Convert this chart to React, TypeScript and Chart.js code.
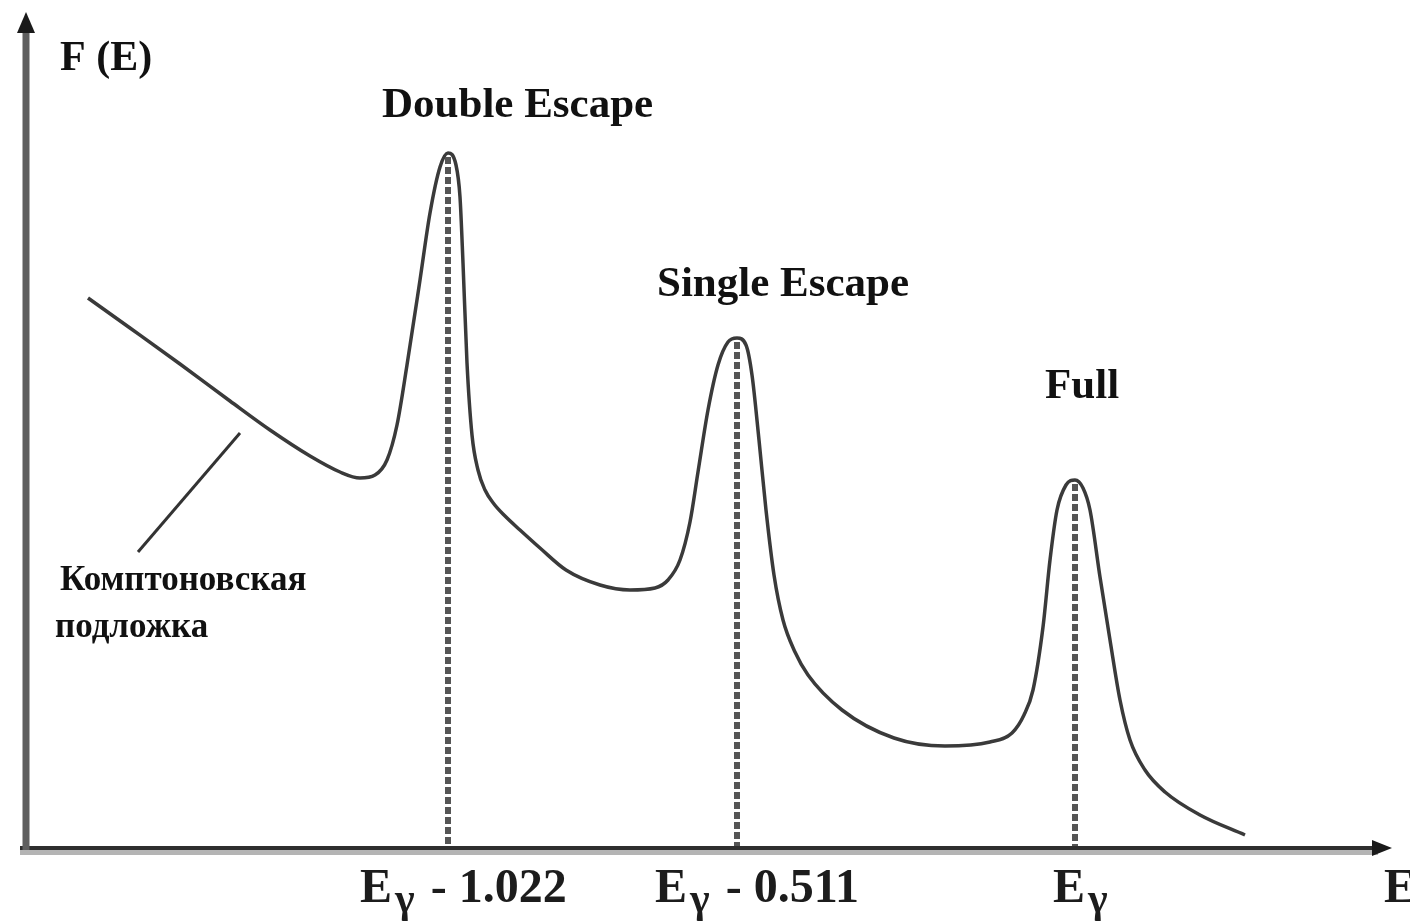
import { useEffect, useRef } from "react";
import { Chart, registerables } from "chart.js";

Chart.register(...registerables);

// Spectrum F(E): energy (arbitrary units along the axis) and counts
const energy = [
  6.3, 10.5, 15.5, 20.5, 24.5, 28.5, 31.5, 33.5, 35.0, 36.2, 37.2, 38.2, 39.5, 40.5, 41.5,
  42.3, 43.1, 43.5, 43.8, 44.2, 44.7, 45.3, 46.0, 46.9, 48.0, 49.5, 51.5, 54.1, 57.5, 60.5,
  63.0, 64.3, 65.5, 66.5, 67.3, 68.3, 69.3, 70.3, 71.2, 72.1, 72.7, 73.4, 74.1, 74.9, 75.8,
  77.0, 78.3, 81.7, 86.9, 92.0, 96.5, 98.7, 99.9, 100.8, 101.8, 102.5, 103.2, 104.1, 105.0,
  105.8, 106.5, 107.5, 108.5, 109.5, 110.5, 112.0, 114.0, 117.5, 122.0,
];
const counts = [
  55.0, 52.0, 48.4, 44.7, 41.8, 39.2, 37.6, 37.0, 37.3, 38.8, 42.3, 48.3, 56.8, 63.5, 68.1,
  69.5, 68.3, 65.1, 58.5, 48.5, 41.3, 37.8, 35.8, 34.4, 33.2, 31.8, 30.0, 27.8, 26.3, 25.8,
  26.0, 26.8, 28.8, 32.6, 37.6, 43.8, 48.3, 50.6, 51.0, 50.3, 47.3, 40.8, 33.8, 27.3, 22.8,
  19.6, 17.3, 13.8, 11.0, 10.2, 10.6, 11.5, 13.3, 15.8, 22.1, 28.8, 33.8, 36.3, 36.8,
  36.0, 33.8, 27.1, 20.8, 14.8, 10.8, 7.8, 5.6, 3.3, 1.3,
];

// Peaks: names, positions and heights
const peakNames = ["Double Escape", "Single Escape", "Full"];
const peakEnergy = [42.3, 71.2, 105.0];
const peakHeight = [69.5, 51.0, 36.8];
const peakNameX = [35.7, 63.2, 102.0];
const peakNameY = [73.1, 55.2, 45.0];

// Energy tick labels under the axis: E + subscript gamma + offset
const tickMain = ["E", "E", "E"];
const tickSub = ["\u03b3", "\u03b3", "\u03b3"];
const tickRest = [" - 1.022", " - 0.511", ""];
const tickX = [33.5, 63.0, 102.8];

// Axis titles
const yTitle = "F (E)";
const xTitle = "E";

// Compton continuum caption and its pointer
const comptonLines = ["\u041a\u043e\u043c\u043f\u0442\u043e\u043d\u043e\u0432\u0441\u043a\u0430\u044f", "\u043f\u043e\u0434\u043b\u043e\u0436\u043a\u0430"];
const comptonX = [3.5, 3.0];
const comptonY = [25.8, 21.1];
const pointerFrom = [11.3, 29.6];
const pointerTo = [21.5, 41.5];

const X_MAX = 137;
const Y_MAX = 83;

const SERIF = "'Liberation Serif', 'Times New Roman', serif";

const annotations = {
  id: "spectrumAnnotations",
  afterDatasetsDraw(chart: any) {
    const ctx: CanvasRenderingContext2D = chart.ctx;
    const xs = chart.scales.x;
    const ys = chart.scales.y;
    const px = (v: number) => xs.getPixelForValue(v);
    const py = (v: number) => ys.getPixelForValue(v);
    const y0 = py(0);
    const x0 = px(0.1);

    ctx.save();

    // dashed markers from each peak down to the axis
    ctx.strokeStyle = "#555";
    ctx.lineWidth = 6;
    ctx.setLineDash([7, 3]);
    peakEnergy.forEach((e, i) => {
      ctx.beginPath();
      ctx.moveTo(px(e), py(peakHeight[i]) + 4);
      ctx.lineTo(px(e), y0);
      ctx.stroke();
    });
    ctx.setLineDash([]);

    // x axis: dark line with lighter underside
    const xEnd = px(136.7);
    ctx.lineCap = "butt";
    ctx.strokeStyle = "#b4b4b4";
    ctx.lineWidth = 5;
    ctx.beginPath();
    ctx.moveTo(px(-0.5), y0 + 4.5);
    ctx.lineTo(xEnd - 14, y0 + 4.5);
    ctx.stroke();
    ctx.strokeStyle = "#2e2e2e";
    ctx.lineWidth = 4;
    ctx.beginPath();
    ctx.moveTo(px(-0.5), y0);
    ctx.lineTo(xEnd - 12, y0);
    ctx.stroke();
    ctx.fillStyle = "#1a1a1a";
    ctx.beginPath();
    ctx.moveTo(xEnd, y0);
    ctx.lineTo(xEnd - 20, y0 - 8);
    ctx.lineTo(xEnd - 20, y0 + 8);
    ctx.closePath();
    ctx.fill();

    // y axis with arrow
    const yTop = py(83.6);
    ctx.strokeStyle = "#5e5e5e";
    ctx.lineWidth = 7;
    ctx.beginPath();
    ctx.moveTo(x0, y0 + 2);
    ctx.lineTo(x0, yTop + 16);
    ctx.stroke();
    ctx.fillStyle = "#1a1a1a";
    ctx.beginPath();
    ctx.moveTo(x0, yTop);
    ctx.lineTo(x0 - 9, yTop + 21);
    ctx.lineTo(x0 + 9, yTop + 21);
    ctx.closePath();
    ctx.fill();

    // pointer to the Compton continuum
    ctx.strokeStyle = "#333";
    ctx.lineWidth = 3;
    ctx.beginPath();
    ctx.moveTo(px(pointerFrom[0]), py(pointerFrom[1]));
    ctx.lineTo(px(pointerTo[0]), py(pointerTo[1]));
    ctx.stroke();

    ctx.textBaseline = "alphabetic";
    ctx.textAlign = "left";
    ctx.fillStyle = "#111";

    // axis title of F(E)
    ctx.font = `bold 42px ${SERIF}`;
    ctx.fillText(yTitle, px(3.5), py(77.8));

    // peak names
    ctx.font = `bold 43px ${SERIF}`;
    peakNames.forEach((name, i) => {
      ctx.fillText(name, px(peakNameX[i]), py(peakNameY[i]));
    });

    // Compton caption
    ctx.font = `bold 35px ${SERIF}`;
    comptonLines.forEach((line, i) => {
      ctx.fillText(line, px(comptonX[i]), py(comptonY[i]));
    });

    // energy tick labels
    const base = y0 + 54;
    ctx.fillStyle = "#1c1c1c";
    tickMain.forEach((m, i) => {
      let x = px(tickX[i]);
      ctx.font = `bold 48px ${SERIF}`;
      ctx.fillText(m, x, base);
      x += ctx.measureText(m).width + 3;
      ctx.font = `bold 42px ${SERIF}`;
      ctx.fillText(tickSub[i], x, base + 10);
      x += ctx.measureText(tickSub[i]).width + 4;
      if (tickRest[i]) {
        ctx.font = `bold 48px ${SERIF}`;
        ctx.fillText(tickRest[i], x, base);
      }
    });
    ctx.font = `bold 48px ${SERIF}`;
    ctx.fillText(xTitle, px(135.9), base);

    ctx.restore();
  },
};

export default function App() {
  const canvasRef = useRef<HTMLCanvasElement | null>(null);

  useEffect(() => {
    document.body.style.margin = "0";
    const canvas = canvasRef.current;
    if (!canvas) return;
    const chart = new Chart(canvas, {
      type: "line",
      data: {
        datasets: [
          {
            data: energy.map((e, i) => ({ x: e, y: counts[i] })),
            borderColor: "#3a3a3a",
            borderWidth: 3.5,
            pointRadius: 0,
            fill: false,
            cubicInterpolationMode: "monotone",
          },
        ],
      },
      options: {
        animation: false,
        responsive: false,
        devicePixelRatio: 1,
        layout: { padding: { left: 25, right: 15, top: 18, bottom: 73 } },
        plugins: { legend: { display: false }, tooltip: { enabled: false } },
        scales: {
          x: { type: "linear", min: 0, max: X_MAX, display: false },
          y: { type: "linear", min: 0, max: Y_MAX, display: false },
        },
      },
      plugins: [annotations],
    });
    return () => chart.destroy();
  }, []);

  return (
    <div style={{ width: 1410, height: 921, background: "#fff" }}>
      <canvas ref={canvasRef} width={1410} height={921} style={{ display: "block" }} />
    </div>
  );
}
